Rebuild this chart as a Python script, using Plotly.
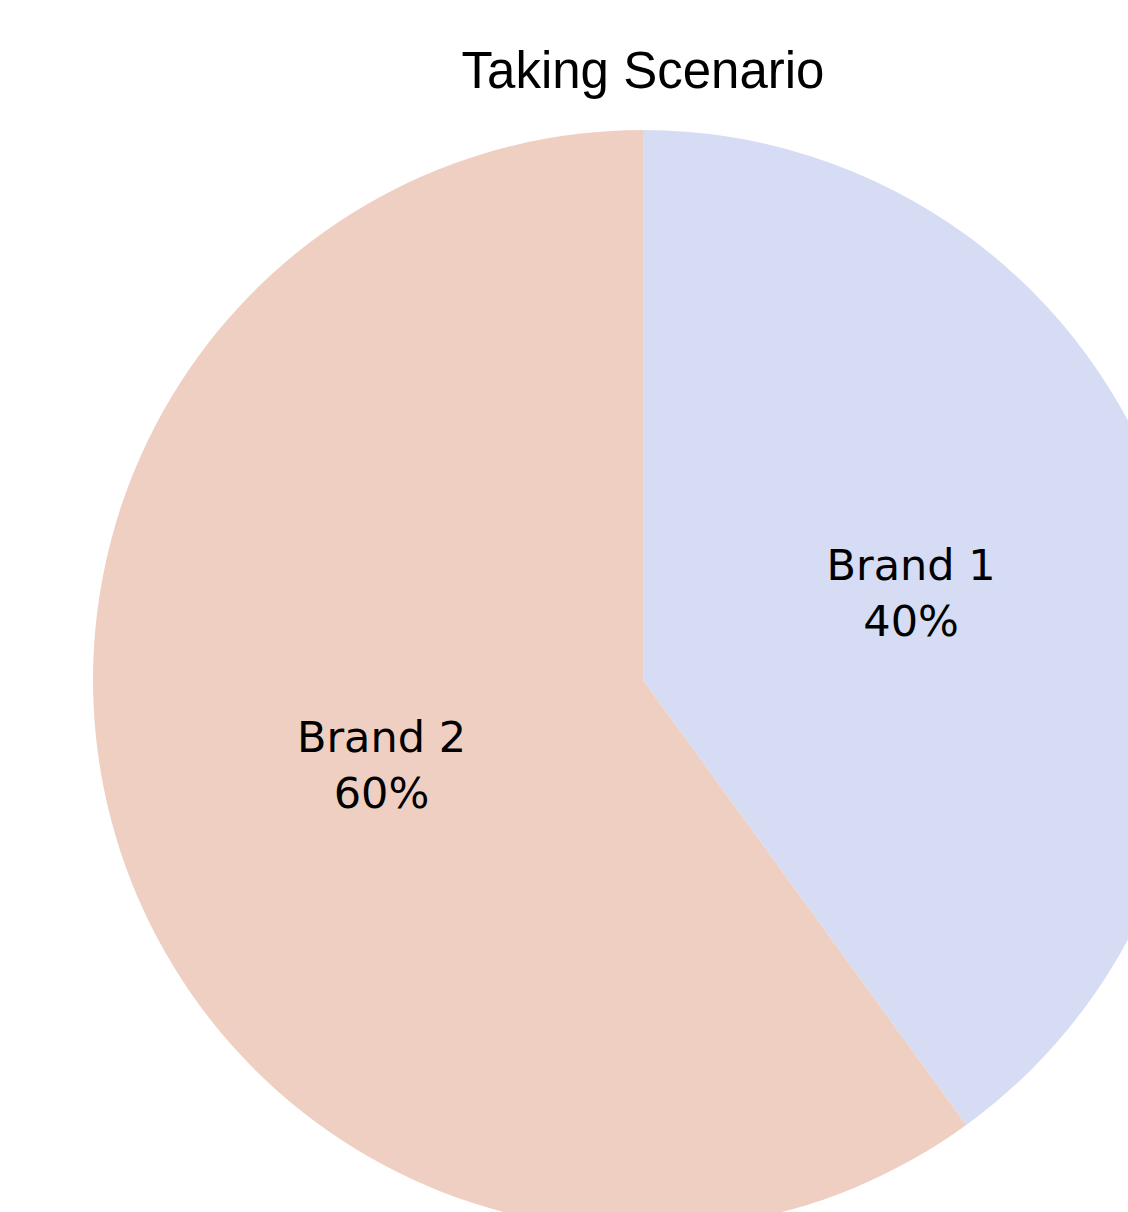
import plotly.graph_objects as go

labels = ["Brand 1", "Brand 2"]
values = [40, 60]
colors = ["#D5DCF4", "#F0CFC3"]
title_text = "Taking Scenario"

fig = go.Figure(
    go.Pie(
        labels=labels,
        values=values,
        sort=False,
        direction="clockwise",
        rotation=0,
        marker=dict(colors=colors, line=dict(width=0)),
        textinfo="label+percent",
        textposition="inside",
        insidetextorientation="horizontal",
        textfont=dict(family="DejaVu Sans", size=43, color="black"),
        showlegend=False,
        hoverinfo="label+percent",
    )
)

fig.update_layout(
    width=1213,
    height=1250,
    margin=dict(l=93, r=20, t=130, b=20),
    paper_bgcolor="white",
    plot_bgcolor="white",
    title=dict(
        text=title_text,
        x=0.5,
        xref="paper",
        xanchor="center",
        y=1 - 70 / 1250,
        yref="container",
        yanchor="middle",
        font=dict(family="Liberation Sans, Arial", size=51, color="black"),
    ),
)

fig.write_html("out.html", post_script="document.body.style.overflow='hidden';document.body.style.margin='0';")
